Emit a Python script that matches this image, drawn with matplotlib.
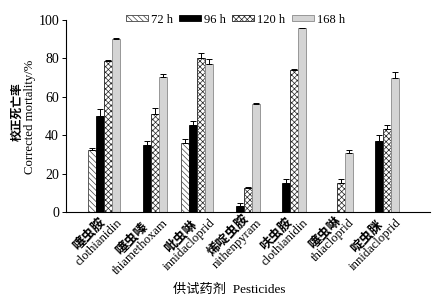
import numpy as np
import matplotlib
matplotlib.use("Agg")
import matplotlib.pyplot as plt
from matplotlib.patches import Patch

plt.rcParams['font.family'] = ['Liberation Serif', 'Noto Sans CJK SC']
plt.rcParams['hatch.linewidth'] = 0.5
CJK = ['Noto Sans CJK SC', 'Liberation Serif']

cn_names = ["噻虫胺", "噻虫嗪", "吡虫啉", "烯啶虫胺", "呋虫胺", "噻虫啉", "啶虫脒"]
en_names = ["clothianidin", "thiamethoxam", "innidacloprid", "nithenpyram",
            "clothianidin", "thiacloprid", "innidacloprid"]
series = ["72 h", "96 h", "120 h", "168 h"]
nan = np.nan
v72 = [32.5, nan, 36, nan, nan, nan, nan]
v96 = [50, 35, 45.5, 3, 15, 0, 37]
v120 = [78.5, 51, 80, 12.5, 74, 15, 43]
v168 = [90, 70.5, 77, 56, 96, 30.5, 70]
e72 = [1, 0, 2, 0, 0, 0, 0]
e96 = [3.5, 2, 2, 1.5, 2, 0, 3]
e120 = [0.5, 3, 3, 0.3, 0.3, 2, 2.5]
e168 = [0.5, 1.5, 2.5, 0.8, 0, 2, 3]

values = [v72, v96, v120, v168]
errors = [e72, e96, e120, e168]
styles = [
    dict(facecolor="white", edgecolor="#444444", hatch="\\\\\\\\\\\\"),
    dict(facecolor="black", edgecolor="black"),
    dict(facecolor="white", edgecolor="#222222", hatch="xxxxxx"),
    dict(facecolor="#d4d4d4", edgecolor="#8a8a8a"),
]

fig = plt.figure(figsize=(4.4, 3.02), dpi=100)
ax = fig.add_axes([0.15, 0.298, 0.827, 0.636])

x = np.arange(len(cn_names))
w = 0.172
for i, (vals, errs, st) in enumerate(zip(values, errors, styles)):
    pos = x + (i - 1.5) * w
    vals = np.array(vals, dtype=float)
    errs = np.array(errs, dtype=float)
    ax.bar(pos, vals, width=w, linewidth=0.6, label=series[i], **st)
    mask = ~np.isnan(vals) & (vals > 0)
    ax.errorbar(pos[mask], vals[mask], yerr=[np.zeros(mask.sum()), errs[mask]],
                fmt="none", ecolor="black", elinewidth=0.7, capsize=2.5, capthick=0.7)

ax.set_xlim(-0.82, 7.0)
ax.set_ylim(0, 100)
ax.set_yticks([0, 20, 40, 60, 80, 100])
ax.tick_params(axis='y', labelsize=10, length=3, width=0.7, pad=2)
ax.set_xticks([])
for s in ["top", "right"]:
    ax.spines[s].set_visible(False)
for s in ["left", "bottom"]:
    ax.spines[s].set_linewidth(0.8)

# two-line rotated category labels (Chinese bold above, English below, centred)
fig.canvas.draw()
rend = fig.canvas.get_renderer()


def text_width(s, **kw):
    t = fig.text(0, 0, s, **kw)
    wd = t.get_window_extent(rend).width
    t.remove()
    return wd


c45 = np.cos(np.pi / 4)
en_kw = dict(fontsize=9.2)
cn_kw = dict(fontsize=9.5, fontweight="bold", family=CJK)
for i in range(len(cn_names)):
    we = text_width(en_names[i], **en_kw)
    ex = 16 - we / 2 * c45
    ey = -9 - we / 2 * c45
    ax.annotate(en_names[i], xy=(x[i], 0), xycoords=ax.get_xaxis_transform(),
                xytext=(ex, ey), textcoords="offset pixels", rotation=45,
                rotation_mode="anchor", ha="center", va="center",
                annotation_clip=False, **en_kw)
    cx = ex - 12.5 * c45
    cy = ey + 12.5 * c45
    ax.annotate(cn_names[i], xy=(x[i], 0), xycoords=ax.get_xaxis_transform(),
                xytext=(cx, cy), textcoords="offset pixels", rotation=45,
                rotation_mode="anchor", ha="center", va="center",
                annotation_clip=False, **cn_kw)

fig.text(0.039, 0.629, "校正死亡率", rotation=90, ha="center", va="center",
         fontsize=8.5, fontweight="bold", family=CJK)
fig.text(0.069, 0.613, "Corrected mortality/%", rotation=90, ha="center", va="center",
         fontsize=9.2)
fig.text(0.52, 0.04, "供试药剂  Pesticides", ha="center", va="center", fontsize=9.5)

handles = [Patch(linewidth=0.6, **st) for st in styles]
fig.legend(handles, series, loc="center", bbox_to_anchor=(0.535, 0.934), ncol=4,
           frameon=False, fontsize=9, handlelength=1.75, handleheight=0.35,
           handletextpad=0.25, columnspacing=0.5, borderpad=0)

fig.savefig("out.png", dpi=100)
